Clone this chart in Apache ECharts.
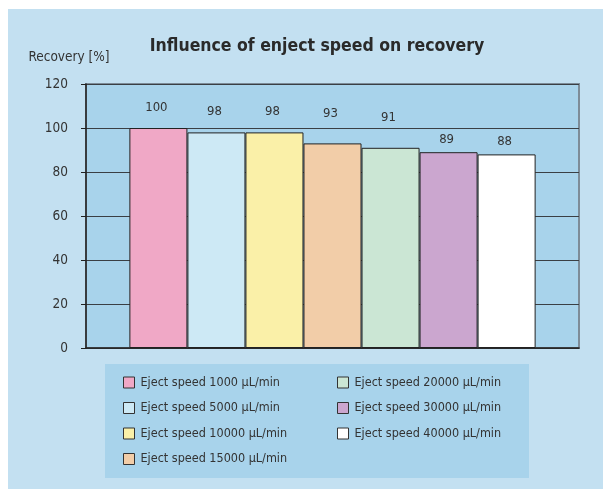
<!DOCTYPE html>
<html>
<head>
<meta charset="utf-8">
<script src="https://cdn.jsdelivr.net/npm/echarts@6/dist/echarts.min.js"></script>
<style>
  html, body { margin: 0; padding: 0; background: #ffffff; }
  #chart { width: 603px; height: 489px; }
</style>
</head>
<body>
<div id="chart"></div>
<script>
// Recovery per eject speed setting
const speeds = ['Eject speed 1000 µL/min', 'Eject speed 5000 µL/min', 'Eject speed 10000 µL/min',
  'Eject speed 15000 µL/min', 'Eject speed 20000 µL/min', 'Eject speed 30000 µL/min',
  'Eject speed 40000 µL/min'];
const recovery = [100, 98, 98, 93, 91, 89, 88];
const barColors = ['#f0a8c6', '#cde9f5', '#faf0a8', '#f2cda8', '#cbe6d4', '#cba6cf', '#ffffff'];
const yTicks = { min: 0, max: 120, step: 20 };

// gap between each bar top and its value label
const labelGaps = [14, 14, 14, 23, 24, 6, 6];

const FONT = '"Liberation Sans Narrow", "DejaVu Sans Condensed", "Liberation Sans", sans-serif';

const chart = echarts.init(document.getElementById('chart'));

const series = speeds.map((name, i) => ({
  name: name,
  type: 'bar',
  data: [recovery[i]],
  barGap: '0%',
  barCategoryGap: '17.6%',
  itemStyle: { color: barColors[i], borderColor: '#222', borderWidth: 1 },
  label: {
    show: true, position: 'top', distance: labelGaps[i], offset: [-2, 0],
    fontFamily: FONT, fontSize: 13, color: '#333'
  },
  emphasis: { disabled: true }
}));

const legendCommon = {
  orient: 'vertical',
  icon: 'rect',
  itemWidth: 11,
  itemHeight: 11,
  itemGap: 12.5,
  selectedMode: false,
  textStyle: { fontFamily: FONT, fontSize: 12.5, color: '#333', padding: [0, 0, 0, 1] },
  itemStyle: { borderColor: '#333', borderWidth: 1 }
};

chart.setOption({
  animation: false,
  backgroundColor: '#ffffff',
  graphic: [
    { type: 'rect', z: -10, shape: { x: 8, y: 9, width: 600, height: 485 }, style: { fill: '#c3e0f1' } },
    { type: 'rect', z: -9, shape: { x: 105, y: 364, width: 424, height: 114 }, style: { fill: '#a8d3eb' } }
  ],
  title: {
    text: 'Influence of enject speed on recovery',
    left: 312, top: 32, textAlign: 'center',
    textStyle: { fontFamily: FONT, fontSize: 17.5, fontWeight: 'bold', color: '#2a2a2a' }
  },
  grid: {
    left: 86, top: 84, right: 24, bottom: 141,
    show: true, backgroundColor: '#a8d3eb', borderColor: '#7d8c98', borderWidth: 2
  },
  legend: [
    Object.assign({ left: 118, top: 371, data: speeds.slice(0, 4) }, legendCommon),
    Object.assign({ left: 332, top: 371, data: speeds.slice(4) }, legendCommon)
  ],
  xAxis: {
    type: 'category',
    data: [''],
    axisLine: { lineStyle: { color: '#222', width: 1.5 } },
    axisTick: { show: false },
    axisLabel: { show: false }
  },
  yAxis: {
    type: 'value',
    min: yTicks.min, max: yTicks.max, interval: yTicks.step,
    name: 'Recovery [%]',
    nameLocation: 'end',
    nameGap: 20,
    nameTextStyle: { fontFamily: FONT, fontSize: 13.5, color: '#333', align: 'center', padding: [0, 0, 0, -34] },
    axisLine: { show: true, lineStyle: { color: '#222', width: 1.5 } },
    axisTick: { show: true, length: 5, lineStyle: { color: '#222' } },
    axisLabel: { fontFamily: FONT, fontSize: 13.5, color: '#333', margin: 18 },
    splitLine: { lineStyle: { color: '#3a3f44', width: 1 } }
  },
  series: series
});
</script>
</body>
</html>
